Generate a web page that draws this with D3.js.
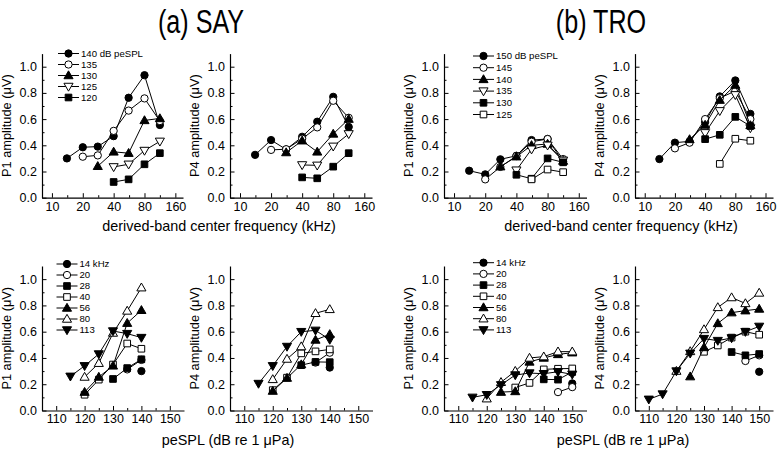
<!DOCTYPE html>
<html><head><meta charset="utf-8">
<script src="https://cdn.jsdelivr.net/npm/d3@7/dist/d3.min.js"></script>
<style>
body{margin:0;background:#fff}
svg text{font-family:Arial,"Liberation Sans",sans-serif;fill:#000}
</style>
</head><body>
<svg id="chart" width="780" height="450"></svg>
<script>
// ---- data ----
const freqs = [14, 20, 28, 40, 56, 80, 113];                 // kHz (derived-band centre)
const levels = [110, 115, 120, 125, 130, 135, 140, 145, 150]; // dB peSPL
const freqTicks = [10, 20, 40, 80, 160];
const freqMinorTicks = [14.1, 28.3, 56.6, 113];
const levelTicks = [110, 120, 130, 140, 150];
const levelMinorTicks = [115, 125, 135, 145];
const ampTicks = [0, 0.2, 0.4, 0.6, 0.8, 1.0];
const ampMinorTicks = [0.1, 0.3, 0.5, 0.7, 0.9];
const N = null;
// amplitude matrices: rows follow `levels`, columns follow `freqs` (µV)
const sayP1 = [
  [N, N, N, N, N, N, N],
  [N, N, N, N, N, N, 0.26],
  [N, N, N, 0.12, 0.14, 0.255, 0.34],
  [N, N, N, 0.235, 0.255, 0.36, 0.43],
  [N, N, 0.24, 0.35, 0.34, 0.59, 0.605],
  [N, 0.313, 0.323, 0.51, 0.665, 0.758, 0.585],
  [0.30, 0.385, 0.39, 0.47, 0.763, 0.935, 0.555],
  [N, N, N, N, N, N, N],
  [N, N, N, N, N, N, N]
];
const sayP4 = [
  [N, N, N, N, N, N, N],
  [N, N, N, N, N, N, 0.205],
  [N, N, N, 0.155, 0.148, 0.237, 0.34],
  [N, N, N, 0.25, 0.247, 0.392, 0.487],
  [N, N, 0.345, 0.435, 0.35, 0.487, 0.60],
  [N, 0.365, 0.37, 0.45, 0.537, 0.74, 0.61],
  [0.327, 0.44, 0.368, 0.465, 0.58, 0.77, 0.54],
  [N, N, N, N, N, N, N],
  [N, N, N, N, N, N, N]
];
const troP1 = [
  [N, N, N, N, N, N, N],
  [N, N, N, N, N, N, 0.10],
  [N, N, N, N, N, 0.09, 0.12],
  [N, N, N, N, 0.14, 0.215, 0.195],
  [N, N, N, 0.175, 0.145, 0.30, 0.27],
  [N, N, N, 0.21, 0.37, 0.40, 0.285],
  [N, N, 0.237, 0.313, 0.40, 0.41, 0.28],
  [N, 0.14, 0.235, 0.318, 0.427, 0.448, 0.295],
  [0.206, 0.178, 0.293, 0.32, 0.44, 0.448, 0.275]
];
const troP4 = [
  [N, N, N, N, N, N, 0.085],
  [N, N, N, N, N, N, 0.125],
  [N, N, N, N, N, 0.30, 0.30],
  [N, N, N, N, 0.258, 0.45, 0.435],
  [N, N, N, 0.447, 0.48, 0.617, 0.547],
  [N, N, N, 0.495, 0.663, 0.785, 0.532],
  [N, N, 0.445, 0.555, 0.745, 0.86, 0.552],
  [N, 0.377, 0.42, 0.60, 0.76, 0.815, 0.60],
  [0.295, 0.42, 0.43, 0.577, 0.773, 0.895, 0.64]
];
const sayLevelsShown = [140, 135, 130, 125, 120];
const troLevelsShown = [150, 145, 140, 135, 130, 125];
const levelMarkers = ["circle", "circleOpen", "tri", "triDownOpen", "square", "squareOpen"];
const freqMarkers = ["circle", "circleOpen", "square", "squareOpen", "tri", "triOpen", "triDown"];

// ---- drawing ----
const svg = d3.select("#chart");
const yTopRange = [197.7, 53.6], yBotRange = [410.5, 266];
const panelX = [[42, 141], [230, 142], [444, 142.5], [635, 138]];

function markerPath(kind) {
  const base = kind.replace("Open", "");
  let sym, size;
  if (base.startsWith("circle")) { sym = d3.symbolCircle; size = 42; }
  else if (base.startsWith("square")) { sym = d3.symbolSquare; size = 44; }
  else { sym = d3.symbolTriangle; size = 36; }
  return d3.symbol().type(sym).size(size)();
}
function drawMarker(g, kind, x, y) {
  const open = kind.includes("Open");
  const down = kind.startsWith("triDown");
  const isTri = kind.startsWith("tri");
  g.append("path")
    .attr("d", markerPath(kind))
    .attr("transform", `translate(${x},${y + (isTri ? (down ? -0.6 : 0.6) : 0)})${down ? " rotate(180)" : ""}`)
    .attr("fill", open ? "#fff" : "#000")
    .attr("stroke", "#000").attr("stroke-width", 1);
}

function panel(opts) {
  const {x0, w, yRange, xScaleType, matrix, mode, shown, yTitle, legend, legendPos} = opts;
  const g = svg.append("g");
  const y = d3.scaleLinear().domain([0, 1.1]).range(yRange);
  let x, ticks, minor;
  if (xScaleType === "log") {
    x = d3.scaleLog().domain([8, 190]).range([x0, x0 + w]);
    ticks = freqTicks; minor = freqMinorTicks;
  } else {
    x = d3.scaleLinear().domain([105, 155]).range([x0, x0 + w]);
    ticks = levelTicks; minor = levelMinorTicks;
  }
  // axes
  g.append("g").attr("transform", `translate(0,${yRange[0]})`)
    .call(d3.axisBottom(x).tickValues(ticks).tickFormat(d3.format("d")).tickSizeInner(-4.5).tickSizeOuter(0).tickPadding(4));
  g.append("g").attr("transform", `translate(0,${yRange[0]})`)
    .call(d3.axisBottom(x).tickValues(minor).tickFormat("").tickSizeInner(-2.5).tickSizeOuter(0))
    .select(".domain").remove();
  g.append("g").attr("transform", `translate(${x0},0)`)
    .call(d3.axisLeft(y).tickValues(ampTicks).tickFormat(d3.format(".1f")).tickSizeInner(-4.5).tickSizeOuter(0).tickPadding(5));
  g.append("g").attr("transform", `translate(${x0},0)`)
    .call(d3.axisLeft(y).tickValues(ampMinorTicks).tickFormat("").tickSizeInner(-2.5).tickSizeOuter(0))
    .select(".domain").remove();
  g.selectAll(".domain").attr("stroke", "#000").attr("stroke-width", 1.2);
  g.selectAll(".tick line").attr("stroke", "#000").attr("stroke-width", 1);
  g.selectAll(".tick text").attr("font-size", 12.5).attr("font-family", "Arial, 'Liberation Sans', sans-serif").attr("fill", "#000");
  // y title
  g.append("text")
    .attr("transform", `translate(${x0 - 31},${(yRange[0] + yRange[1]) / 2}) rotate(-90)`)
    .attr("text-anchor", "middle").attr("font-size", 12.8)
    .text(yTitle);

  // series
  let series;
  if (mode === "byLevel") {
    series = shown.map((lv, i) => {
      const row = matrix[levels.indexOf(lv)];
      return {label: i === 0 ? `${lv} dB peSPL` : `${lv}`, marker: levelMarkers[i],
        pts: freqs.map((f, j) => ({x: f, v: row[j]})).filter(d => d.v != null)};
    });
  } else {
    series = freqs.map((f, j) => ({label: j === 0 ? `${f} kHz` : `${f}`, marker: freqMarkers[j],
      pts: levels.map((lv, i) => ({x: lv, v: matrix[i][j]})).filter(d => d.v != null)}));
  }
  const line = d3.line().x(d => x(d.x)).y(d => y(d.v));
  series.forEach(s => {
    const sg = g.append("g");
    sg.append("path").attr("d", line(s.pts)).attr("fill", "none").attr("stroke", "#000").attr("stroke-width", 1);
    s.pts.forEach(p => drawMarker(sg, s.marker, x(p.x), y(p.v)));
  });
  // legend
  if (legend) {
    const [lx, ly, step] = legendPos;
    series.forEach((s, i) => {
      const yy = ly + i * step;
      const lg = g.append("g");
      lg.append("line").attr("x1", lx).attr("x2", lx + 21).attr("y1", yy).attr("y2", yy)
        .attr("stroke", "#000").attr("stroke-width", 1);
      drawMarker(lg, s.marker, lx + 10.5, yy);
      lg.append("text").attr("x", lx + 23).attr("y", yy).attr("dy", "0.35em")
        .attr("font-size", 9.6).text(s.label);
    });
  }
}

panel({x0: panelX[0][0], w: panelX[0][1], yRange: yTopRange, xScaleType: "log", matrix: sayP1, mode: "byLevel",
  shown: sayLevelsShown, yTitle: "P1 amplitude (\u03bcV)", legend: true, legendPos: [58, 53.5, 11]});
panel({x0: panelX[1][0], w: panelX[1][1], yRange: yTopRange, xScaleType: "log", matrix: sayP4, mode: "byLevel",
  shown: sayLevelsShown, yTitle: "P4 amplitude (\u03bcV)", legend: false});
panel({x0: panelX[2][0], w: panelX[2][1], yRange: yTopRange, xScaleType: "log", matrix: troP1, mode: "byLevel",
  shown: troLevelsShown, yTitle: "P1 amplitude (\u03bcV)", legend: true, legendPos: [473, 56, 11.7]});
panel({x0: panelX[3][0], w: panelX[3][1], yRange: yTopRange, xScaleType: "log", matrix: troP4, mode: "byLevel",
  shown: troLevelsShown, yTitle: "P4 amplitude (\u03bcV)", legend: false});

panel({x0: panelX[0][0], w: 142, yRange: yBotRange, xScaleType: "lin", matrix: sayP1, mode: "byFreq",
  yTitle: "P1 amplitude (\u03bcV)", legend: true, legendPos: [56.5, 264, 11]});
panel({x0: panelX[1][0], w: 142.5, yRange: yBotRange, xScaleType: "lin", matrix: sayP4, mode: "byFreq",
  yTitle: "P4 amplitude (\u03bcV)", legend: false});
panel({x0: panelX[2][0], w: 142.5, yRange: yBotRange, xScaleType: "lin", matrix: troP1, mode: "byFreq",
  yTitle: "P1 amplitude (\u03bcV)", legend: true, legendPos: [473, 262.7, 11.2]});
panel({x0: panelX[3][0], w: 138, yRange: yBotRange, xScaleType: "lin", matrix: troP4, mode: "byFreq",
  yTitle: "P4 amplitude (\u03bcV)", legend: false});

// shared axis titles
[[219, 230.5], [621, 230.5]].forEach(([cx, cy]) =>
  svg.append("text").attr("x", cx).attr("y", cy).attr("text-anchor", "middle").attr("font-size", 14.4)
    .text("derived-band center frequency (kHz)"));
[[228, 445], [623, 445]].forEach(([cx, cy]) =>
  svg.append("text").attr("x", cx).attr("y", cy).attr("text-anchor", "middle").attr("font-size", 14.4)
    .text("peSPL (dB re 1 \u03bcPa)"));
// panel titles (condensed sans)
[["(a) SAY", 201], ["(b) TRO", 601]].forEach(([t, cx]) =>
  svg.append("text").attr("transform", `translate(${cx},33) scale(0.74,1)`).attr("text-anchor", "middle")
    .attr("font-size", 34).text(t));
</script>
</body></html>
